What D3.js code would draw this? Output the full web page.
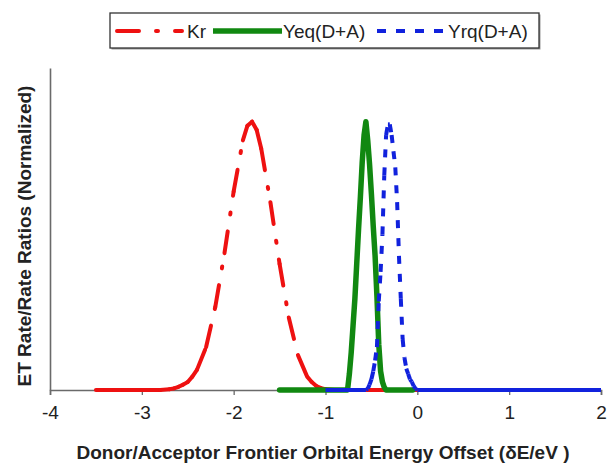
<!DOCTYPE html>
<html>
<head>
<meta charset="utf-8">
<script src="https://cdn.jsdelivr.net/npm/d3@7"></script>
<style>
  body { margin: 0; background: #fff; }
  svg { display: block; font-family: Arial, "Liberation Sans", sans-serif; }
</style>
</head>
<body>
<svg id="chart" width="607" height="463"></svg>
<script>
// Energy offset grid (eV) and normalized rates
const xTicks = [-4, -3, -2, -1, 0, 1, 2];

const krX = [-3.5, -3.4, -3.3, -3.2, -3.1, -3.0, -2.9, -2.8, -2.7, -2.65, -2.6, -2.55, -2.5, -2.45, -2.4,
             -2.3, -2.2, -2.1, -2.0, -1.9, -1.85, -1.8, -1.75, -1.7, -1.6, -1.5, -1.4, -1.3, -1.2,
             -1.15, -1.1, -1.05, -1.0, -0.9, -0.8, -0.7, -0.6, -0.5, -0.4, -0.3, -0.2, -0.1, 0.0];
const krY = [0, 0, 0, 0, 0, 0, 0, 0, 0.003, 0.006, 0.012, 0.02, 0.03, 0.05, 0.075,
             0.16, 0.31, 0.51, 0.74, 0.93, 0.985, 1.0, 0.97, 0.90, 0.70, 0.47, 0.27, 0.13, 0.05,
             0.03, 0.015, 0.007, 0.003, 0, 0, 0, 0, 0, 0, 0, 0, 0, 0];

const yeqX = [-1.5, -1.4, -1.3, -1.2, -1.1, -1.0, -0.9, -0.8, -0.76, -0.74, -0.72, -0.70, -0.68, -0.66,
              -0.64, -0.62, -0.60, -0.58, -0.56, -0.54, -0.52, -0.50, -0.48, -0.46, -0.44, -0.42,
              -0.40, -0.38, -0.36, -0.34, -0.3, -0.2, -0.1, -0.05];
const yeqY = [0, 0, 0, 0, 0, 0, 0, 0, 0, 0.06, 0.14, 0.24, 0.34, 0.47,
              0.60, 0.72, 0.85, 0.95, 1.0, 0.93, 0.84, 0.73, 0.61, 0.50, 0.35, 0.17,
              0.07, 0.03, 0.01, 0, 0, 0, 0, 0];

const yrqX = [-1.0, -0.56, -0.54, -0.52, -0.50, -0.48, -0.46, -0.44, -0.42, -0.40, -0.38, -0.36, -0.34,
              -0.32, -0.30, -0.28, -0.26, -0.24, -0.22, -0.20, -0.18, -0.16, -0.14, -0.12, -0.10,
              -0.08, -0.06, -0.04, -0.02, 0.0, 2.0];
const yrqY = [0, 0, 0.005, 0.02, 0.04, 0.07, 0.11, 0.16, 0.33, 0.44, 0.58, 0.80, 0.95,
              0.99, 0.99, 0.95, 0.89, 0.83, 0.70, 0.50, 0.34, 0.19, 0.12, 0.08, 0.06,
              0.04, 0.03, 0.015, 0.005, 0, 0];

const seriesNames = ["Kr", "Yeq(D+A)", "Yrq(D+A)"];

const series = [
  { name: seriesNames[0], xs: krX,  ys: krY,  color: "#ee1111", width: 4,   dash: "22,17,2,17", cap: "round" },
  { name: seriesNames[1], xs: yeqX, ys: yeqY, color: "#118811", width: 5.5, dash: null,         cap: "round" },
  { name: seriesNames[2], xs: yrqX, ys: yrqY, color: "#1122dd", width: 4,   dash: "8,10",       cap: "butt" }
];

const svg = d3.select("#chart");

const x = d3.scaleLinear().domain([-4, 2]).range([50, 601]);
const y = d3.scaleLinear().domain([0, 1.2]).range([390, 68]);

// Axes
const axisColor = "#6a6a6a";
const xAxis = d3.axisBottom(x).tickValues(xTicks).tickSize(5).tickPadding(11)
  .tickFormat(d3.format("d"));
const gx = svg.append("g").attr("transform", "translate(0,390)").call(xAxis);
gx.select(".domain").attr("stroke", axisColor).attr("stroke-width", 1.6);
gx.selectAll(".tick line").attr("stroke", axisColor).attr("stroke-width", 1.3);
gx.selectAll(".tick text").attr("font-size", 19).attr("fill", "#222")
  .attr("font-family", "Arial, 'Liberation Sans', sans-serif")
  .text(d => d < 0 ? "-" + Math.abs(d) : String(d));

const yAxis = d3.axisLeft(y).tickValues([]).tickSize(0);
const gy = svg.append("g").attr("transform", "translate(50,0)").call(yAxis);
gy.select(".domain").attr("stroke", axisColor).attr("stroke-width", 1.6);

// Axis titles
svg.append("text")
  .attr("x", 323).attr("y", 459)
  .attr("text-anchor", "middle")
  .attr("font-size", 19).attr("font-weight", "bold").attr("fill", "#222")
  .text("Donor/Acceptor Frontier Orbital Energy Offset (δE/eV )");

svg.append("text")
  .attr("transform", "translate(31,236) rotate(-90)")
  .attr("text-anchor", "middle")
  .attr("font-size", 19).attr("font-weight", "bold").attr("fill", "#222")
  .text("ET Rate/Rate Ratios (Normalized)");

// Curves: each segment is stroked on its own so the dash pattern restarts at every point;
// stretches lying on the baseline are stroked solid.
const line = d3.line().x(d => x(d[0])).y(d => y(d[1]));
const plot = svg.append("g");

series.forEach(s => {
  const pts = s.xs.map((v, i) => [v, s.ys[i]]);
  const g = plot.append("g");
  if (!s.dash) {
    g.append("path")
      .attr("d", line(pts))
      .attr("fill", "none")
      .attr("stroke", s.color)
      .attr("stroke-width", s.width)
      .attr("stroke-linejoin", "round")
      .attr("stroke-linecap", s.cap);
    return;
  }
  const segs = d3.pairs(pts);
  g.selectAll("path").data(segs).join("path")
    .attr("d", d => line(d))
    .attr("fill", "none")
    .attr("stroke", s.color)
    .attr("stroke-width", s.width)
    .attr("stroke-linecap", s.cap)
    .attr("stroke-dasharray", d => (d[0][1] === 0 && d[1][1] === 0) ? null : s.dash);
});

// Legend
const legend = svg.append("g");
legend.append("rect")
  .attr("x", 111.5).attr("y", 14.5).attr("width", 429).attr("height", 35)
  .attr("fill", "#999").attr("stroke", "none");
legend.append("rect")
  .attr("x", 110).attr("y", 13).attr("width", 429).attr("height", 35)
  .attr("fill", "#fff").attr("stroke", "#333").attr("stroke-width", 1.3);

const legendItems = [
  { s: series[0], x0: 117, x1: 182, tx: 187, dash: "22,17,2,17" },
  { s: series[1], x0: 213, x1: 282, tx: 283, dash: null },
  { s: series[2], x0: 377, x1: 443, tx: 448, dash: "9,10" }
];
legendItems.forEach(it => {
  legend.append("line")
    .attr("x1", it.x0).attr("x2", it.x1).attr("y1", 31).attr("y2", 31)
    .attr("stroke", it.s.color).attr("stroke-width", it.s.width)
    .attr("stroke-linecap", it.s.cap === "round" && it.dash ? "round" : "butt")
    .attr("stroke-dasharray", it.dash);
  legend.append("text")
    .attr("x", it.tx).attr("y", 38)
    .attr("font-size", 19).attr("fill", "#222")
    .text(it.s.name);
});
</script>
</body>
</html>
